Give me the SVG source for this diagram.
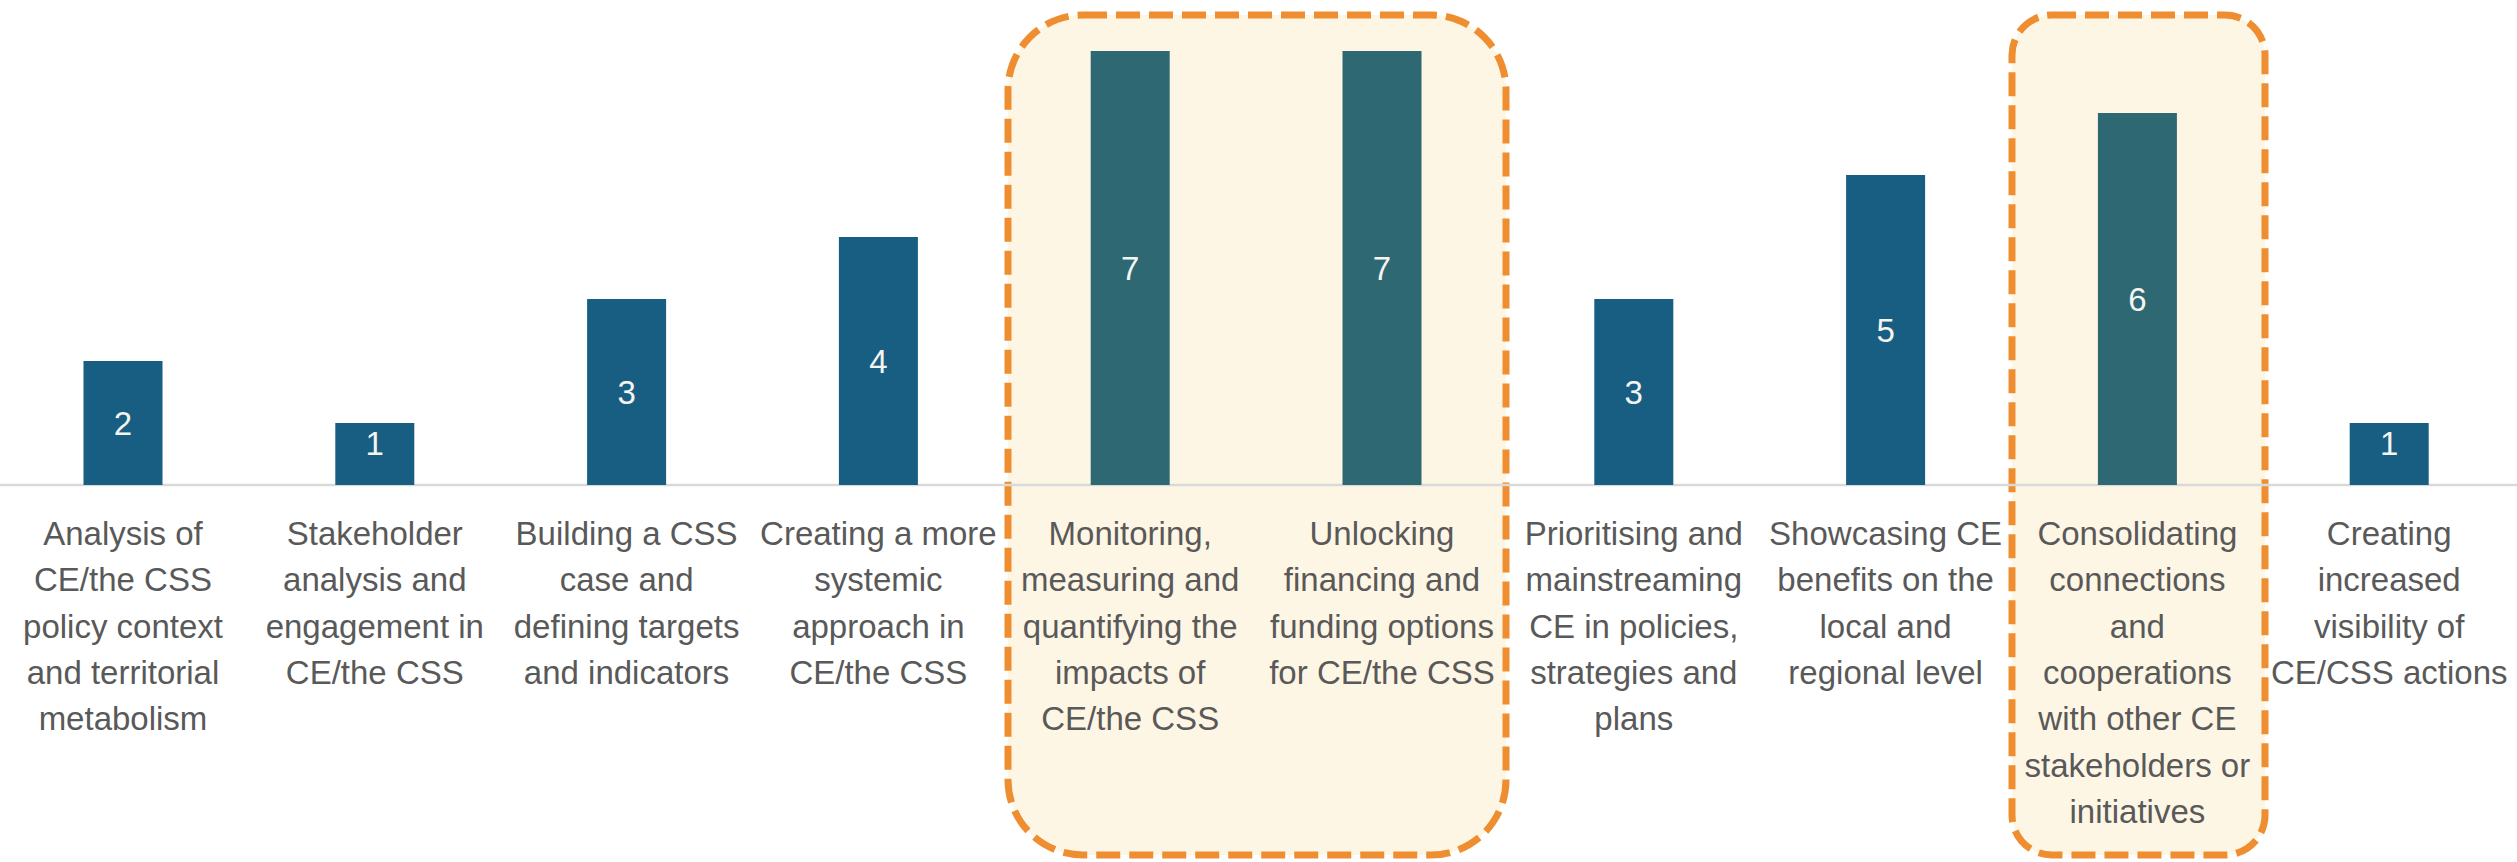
<svg xmlns="http://www.w3.org/2000/svg" width="2517" height="862" viewBox="0 0 2517 862">
<style>
.hl{fill:#FEF6E4;stroke:#EE8E30;stroke-width:7;stroke-dasharray:24 9}
.bar{fill:#175E82}
.bart{fill:#2E6873}
.val{font-family:"Liberation Sans",Arial,sans-serif;font-size:33px;fill:#F4F4F0;text-anchor:middle}
.lbl{font-family:"Liberation Sans",Arial,sans-serif;font-size:33px;fill:#595959;text-anchor:middle}
.axis{stroke:#D9D9D9;stroke-width:2.5}
</style>
<rect width="2517" height="862" fill="#FFFFFF"/>
<g id="highlight-1"><rect class="hl" x="1008" y="15" width="498" height="840" rx="75" ry="75"/></g>
<g id="highlight-2"><rect class="hl" x="2012" y="15" width="253" height="840" rx="40" ry="40"/></g>
<g id="connectors"><line class="axis" x1="0" y1="485" x2="2517" y2="485"/></g>
<g id="cat1"><rect class="bar" x="83.5" y="361" width="79" height="124"/><text class="val" x="123" y="435">2</text>
<text class="lbl" x="123" y="545">Analysis of</text><text class="lbl" x="123" y="591.3">CE/the CSS</text><text class="lbl" x="123" y="637.6">policy context</text><text class="lbl" x="123" y="683.9">and territorial</text><text class="lbl" x="123" y="730.2">metabolism</text></g>
<g id="cat2"><rect class="bar" x="335.3" y="423" width="79" height="62"/><text class="val" x="374.8" y="455">1</text>
<text class="lbl" x="374.8" y="545">Stakeholder</text><text class="lbl" x="374.8" y="591.3">analysis and</text><text class="lbl" x="374.8" y="637.6">engagement in</text><text class="lbl" x="374.8" y="683.9">CE/the CSS</text></g>
<g id="cat3"><rect class="bar" x="587.1" y="299" width="79" height="186"/><text class="val" x="626.6" y="404">3</text>
<text class="lbl" x="626.6" y="545">Building a CSS</text><text class="lbl" x="626.6" y="591.3">case and</text><text class="lbl" x="626.6" y="637.6">defining targets</text><text class="lbl" x="626.6" y="683.9">and indicators</text></g>
<g id="cat4"><rect class="bar" x="838.9" y="237" width="79" height="248"/><text class="val" x="878.4" y="373">4</text>
<text class="lbl" x="878.4" y="545">Creating a more</text><text class="lbl" x="878.4" y="591.3">systemic</text><text class="lbl" x="878.4" y="637.6">approach in</text><text class="lbl" x="878.4" y="683.9">CE/the CSS</text></g>
<g id="cat5"><rect class="bart" x="1090.7" y="51" width="79" height="434"/><text class="val" x="1130.2" y="280">7</text>
<text class="lbl" x="1130.2" y="545">Monitoring,</text><text class="lbl" x="1130.2" y="591.3">measuring and</text><text class="lbl" x="1130.2" y="637.6">quantifying the</text><text class="lbl" x="1130.2" y="683.9">impacts of</text><text class="lbl" x="1130.2" y="730.2">CE/the CSS</text></g>
<g id="cat6"><rect class="bart" x="1342.5" y="51" width="79" height="434"/><text class="val" x="1382" y="280">7</text>
<text class="lbl" x="1382" y="545">Unlocking</text><text class="lbl" x="1382" y="591.3">financing and</text><text class="lbl" x="1382" y="637.6">funding options</text><text class="lbl" x="1382" y="683.9">for CE/the CSS</text></g>
<g id="cat7"><rect class="bar" x="1594.3" y="299" width="79" height="186"/><text class="val" x="1633.8" y="404">3</text>
<text class="lbl" x="1633.8" y="545">Prioritising and</text><text class="lbl" x="1633.8" y="591.3">mainstreaming</text><text class="lbl" x="1633.8" y="637.6">CE in policies,</text><text class="lbl" x="1633.8" y="683.9">strategies and</text><text class="lbl" x="1633.8" y="730.2">plans</text></g>
<g id="cat8"><rect class="bar" x="1846.1" y="175" width="79" height="310"/><text class="val" x="1885.6" y="342">5</text>
<text class="lbl" x="1885.6" y="545">Showcasing CE</text><text class="lbl" x="1885.6" y="591.3">benefits on the</text><text class="lbl" x="1885.6" y="637.6">local and</text><text class="lbl" x="1885.6" y="683.9">regional level</text></g>
<g id="cat9"><rect class="bart" x="2097.9" y="113" width="79" height="372"/><text class="val" x="2137.4" y="311">6</text>
<text class="lbl" x="2137.4" y="545">Consolidating</text><text class="lbl" x="2137.4" y="591.3">connections</text><text class="lbl" x="2137.4" y="637.6">and</text><text class="lbl" x="2137.4" y="683.9">cooperations</text><text class="lbl" x="2137.4" y="730.2">with other CE</text><text class="lbl" x="2137.4" y="776.5">stakeholders or</text><text class="lbl" x="2137.4" y="822.8">initiatives</text></g>
<g id="cat10"><rect class="bar" x="2349.7" y="423" width="79" height="62"/><text class="val" x="2389.2" y="455">1</text>
<text class="lbl" x="2389.2" y="545">Creating</text><text class="lbl" x="2389.2" y="591.3">increased</text><text class="lbl" x="2389.2" y="637.6">visibility of</text><text class="lbl" x="2389.2" y="683.9">CE/CSS actions</text></g>
</svg>
